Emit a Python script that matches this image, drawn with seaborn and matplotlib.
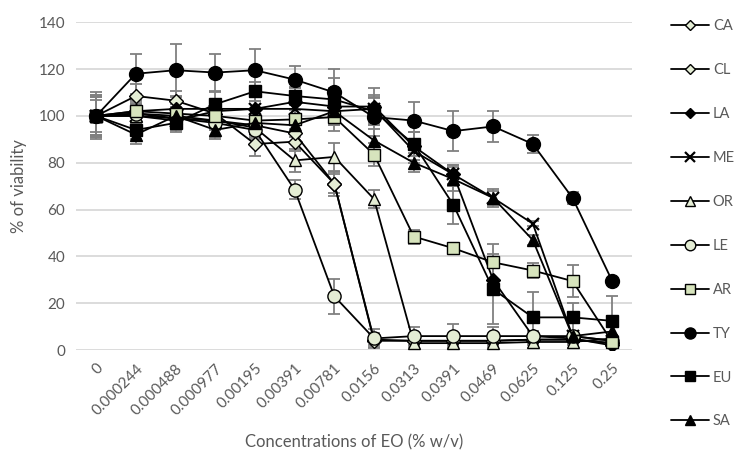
import numpy as np
import pandas as pd
import seaborn as sns
import matplotlib
matplotlib.use("Agg")
import matplotlib.pyplot as plt
from matplotlib.lines import Line2D

concentrations = ["0", "0.000244", "0.000488", "0.000977", "0.00195", "0.00391",
                  "0.00781", "0.0156", "0.0313", "0.0391", "0.0469", "0.0625",
                  "0.125", "0.25"]

CA = [100, 108.5, 106.5, 101, 88, 89, 71, 4.5, 4, 4, 4, 4.5, 4.5, 3]
CL = [100, 101, 100, 98, 96, 92.5, 71, 4, 4, 4, 4, 4.5, 4.5, 3]
LA = [100, 102, 103, 103, 103, 106, 104, 104, 87, 75, 30, 6, 5, 2]
ME = [100, 100, 98, 102, 103, 103, 102, 103, 85, 75, 65, 54, 6, 4]
OR = [100, 100, 99, 98, 95, 81, 82.5, 64.5, 3, 3, 3, 3.5, 3.5, 5]
LE = [100, 101, 99, 97, 94, 68.5, 23, 5, 6, 6, 6, 6, 6, 4]
AR = [100, 102, 101, 100, 98, 98.5, 99.5, 83.5, 48.5, 43.5, 37.5, 34, 29.5, 3.5]
TY = [100, 118, 119.5, 118.5, 119.5, 115.5, 110, 99.5, 98, 93.5, 95.5, 88, 65, 29.5]
EU = [100, 94, 97, 105, 110.5, 108.5, 107, 102, 88, 62, 26, 14, 14, 12.5]
SA = [100, 92, 100, 94, 97, 96, 102, 89.5, 80, 73, 65, 47, 6, 8]

CA_err = [9, 5, 4, 5, 5, 4, 5, 3, 2, 2, 2, 2, 2, 2]
CL_err = [8, 4, 4, 4, 4, 4, 4, 2, 2, 2, 2, 2, 2, 2]
LA_err = [8, 5, 5, 4, 5, 6, 8, 8, 6, 4, 6, 2, 2, 1]
ME_err = [9, 5, 4, 4, 5, 4, 5, 6, 5, 4, 4, 1, 1, 1]
OR_err = [7, 4, 4, 4, 4, 5, 6, 4, 1.5, 1.5, 1.5, 1.5, 1.5, 1.5]
LE_err = [8, 5, 4, 6, 4, 4, 7.5, 4, 4, 5, 4, 2, 2, 2]
AR_err = [8, 5, 5, 5, 5, 4, 6, 5, 3, 2, 8, 3, 7, 2]
TY_err = [10, 8.5, 11, 8, 9, 6, 10, 8, 8, 8.5, 6.5, 4, 2.5, 1]
EU_err = [8, 4, 4, 5, 4, 4, 9, 6, 5, 8, 15, 11, 6, 10.5]
SA_err = [8, 4, 5, 4, 4, 5, 6, 5, 4, 5, 3, 2, 2, 3]

names = ["CA", "CL", "LA", "ME", "OR", "LE", "AR", "TY", "EU", "SA"]
values = [CA, CL, LA, ME, OR, LE, AR, TY, EU, SA]
errors = [CA_err, CL_err, LA_err, ME_err, OR_err, LE_err, AR_err, TY_err, EU_err, SA_err]

light = "#e4edd4"
styles = {
    "CA": dict(marker="D", ms=7, mfc=light),
    "CL": dict(marker="D", ms=7, mfc=light),
    "LA": dict(marker="D", ms=7, mfc="black"),
    "ME": dict(marker="x", ms=8.5, mfc="black", mew=1.6),
    "OR": dict(marker="^", ms=9, mfc=light),
    "LE": dict(marker="o", ms=9.5, mfc=light),
    "AR": dict(marker="s", ms=9, mfc="#d7e4bd"),
    "TY": dict(marker="o", ms=10, mfc="black"),
    "EU": dict(marker="s", ms=9, mfc="black"),
    "SA": dict(marker="^", ms=9, mfc="black"),
}

sns.set_theme(style="white")
plt.rcParams["font.family"] = ["Lato", "DejaVu Sans"]

fig = plt.figure(figsize=(7.41, 4.53), dpi=100)
ax = fig.add_axes([0.103, 0.227, 0.75, 0.724])

xpos = np.arange(len(concentrations))
grey = "#808080"
for name, vals, err in zip(names, values, errors):
    ax.errorbar(xpos, vals, yerr=err, fmt="none", ecolor=grey, elinewidth=1.3,
                capsize=4, capthick=1.3, zorder=1)

for name, vals in zip(names, values):
    df = pd.DataFrame({"x": xpos, "y": vals})
    st = styles[name]
    sns.lineplot(data=df, x="x", y="y", ax=ax, color="black", linewidth=1.3,
                 marker=st["marker"], markersize=st["ms"], markerfacecolor=st["mfc"],
                 markeredgecolor="black", markeredgewidth=st.get("mew", 1.0),
                 zorder=3, legend=False)

ax.set_xlim(-0.5, 13.5)
ax.set_ylim(0, 140)
ax.set_yticks(np.arange(0, 141, 20))
ax.set_xticks(xpos)
ax.set_xticklabels(concentrations, rotation=45, ha="right", rotation_mode="anchor",
                   color="#595959", fontsize=11)
ax.tick_params(axis="y", colors="#595959", labelsize=11, length=0, pad=8)
ax.tick_params(axis="x", length=0, pad=8)
ax.yaxis.grid(True, color="#d9d9d9", linewidth=1.3)
ax.xaxis.grid(False)
for s in ax.spines.values():
    s.set_visible(False)
ax.set_xlabel("Concentrations of EO (% w/v)", color="#595959", fontsize=12, labelpad=12)
ax.set_ylabel("% of viability", color="#595959", fontsize=12, labelpad=8)

handles = []
for name in names:
    st = styles[name]
    handles.append(Line2D([0], [0], color="black", linewidth=1.3, marker=st["marker"],
                          markersize=st["ms"] * 0.8, markerfacecolor=st["mfc"],
                          markeredgecolor="black", markeredgewidth=st.get("mew", 1.0)))
leg = fig.legend(handles, names, loc="upper left", bbox_to_anchor=(0.898, 0.97),
                 frameon=False, fontsize=10.5, handlelength=2.6, labelspacing=2.05,
                 handletextpad=0.25, borderaxespad=0)
for t in leg.get_texts():
    t.set_color("#595959")

fig.savefig("out.png", dpi=100)
